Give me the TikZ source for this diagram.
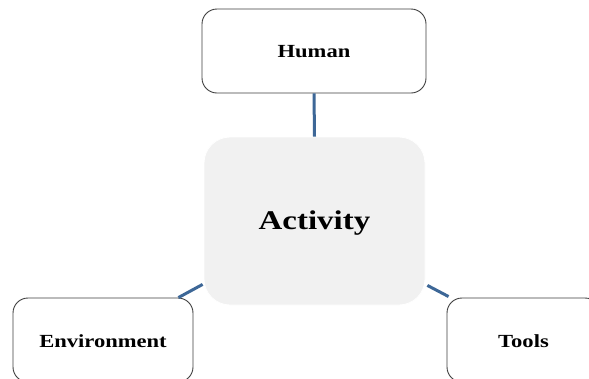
\documentclass[tikz,border=0pt]{standalone}
\usepackage{fontspec}
\usepackage{graphicx}
\setmainfont{Liberation Serif}
\usetikzlibrary{calc}
\definecolor{linkblue}{HTML}{3D6797}
\definecolor{boxedge}{HTML}{3F3F3F}
\definecolor{actfill}{HTML}{F1F1F1}
\newcommand{\wide}[1]{\scalebox{1.22}[1]{#1}}
\tikzset{
  outerbox/.style={draw=boxedge, line width=0.9pt, fill=white, rounded corners=15pt,
    inner sep=0pt, minimum width=#1, minimum height=84pt},
  lbl/.style={font=\bfseries\fontsize{18.5}{20}\selectfont, inner sep=0pt},
  link/.style={draw=linkblue, line width=3pt}
}
\begin{document}
\begin{tikzpicture}[x=1pt,y=-1pt]
\useasboundingbox (0,0) rectangle (589,378);
\clip (0,0) rectangle (589,378);
\fill[white] (0,0) rectangle (589,378);
\node[outerbox=224pt] (human) at (314,51) {};
\node[lbl] (humant) at (314,52) {\wide{Human}};
\node[fill=actfill, draw=white, line width=0.8pt, rounded corners=26pt, inner sep=0pt,
  minimum width=221pt, minimum height=168pt] (activity) at (314.5,221) {};
\node[font=\bfseries\fontsize{27}{30}\selectfont, inner sep=0pt] (activityt) at (314.5,223) {\wide{Activity}};
\node[outerbox=180pt] (env) at (103,340) {};
\node[lbl] (envt) at (103,341) {\wide{Environment}};
\node[outerbox=153pt] (tools) at (523.5,340) {};
\node[lbl] (toolst) at (523.5,341) {\wide{Tools}};
\draw[link] (human.south) -- (activity.north);
\draw[link] ($(env.north east)+(-15,0)$) -- ($(activity.south west)+(-1,-21)$);
\draw[link] ($(activity.south east)+(2,-20)$) -- ($(tools.north west)+(2,-1)$);
\end{tikzpicture}
\end{document}
